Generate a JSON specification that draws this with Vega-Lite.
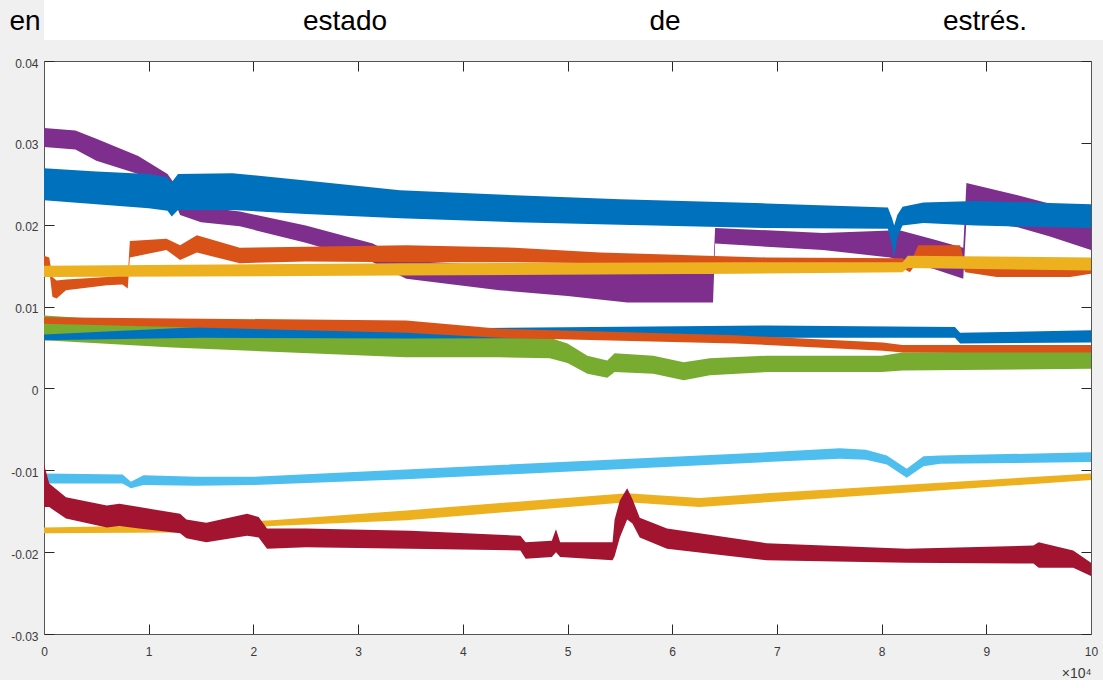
{
  "$schema": "https://vega.github.io/schema/vega-lite/v6.json",
  "background": "#f0f0f0",
  "padding": {"left": 9, "top": 0, "right": 0, "bottom": 0},
  "bounds": "flush",
  "spacing": 21,
  "config": {
    "view": {"stroke": null},
    "axis": {
      "grid": false,
      "domainColor": "#555555",
      "domainWidth": 1,
      "tickColor": "#262626",
      "tickWidth": 1,
      "tickSize": -10,
      "labelColor": "#3a3a3a",
      "labelFont": "Liberation Sans",
      "labelFontSize": 12,
      "titleFont": "Liberation Sans"
    }
  },
  "vconcat": [
    {
      "width": 1059,
      "height": 40,
      "view": {"fill": "white", "stroke": null},
      "data": {"values": [
        {"w": "en"}, {"w": "estado"}, {"w": "de"}, {"w": "estrés."}
      ]},
      "mark": {"type": "text", "font": "Liberation Sans", "fontSize": 28, "baseline": "middle", "color": "#000000", "dy": 2},
      "encoding": {
        "x": {"field": "w", "type": "nominal", "scale": {"type": "point", "domain": ["en", "estado", "de", "estrés."], "range": [-19, 941], "padding": 0}, "axis": null},
        "text": {"field": "w"}
      }
    },
    {
      "width": 1047,
      "height": 573,
      "view": {"fill": "white", "stroke": null},
      "data": {"values": [
        {"s":"a","x":0,"lo":0.0295,"hi":0.0318},
        {"s":"a","x":3000,"lo":0.0292,"hi":0.0315},
        {"s":"a","x":5000,"lo":0.0278,"hi":0.0305},
        {"s":"a","x":9000,"lo":0.0262,"hi":0.0284},
        {"s":"a","x":11800,"lo":0.0250,"hi":0.0262},
        {"s":"a","x":13000,"lo":0.0212,"hi":0.0240},
        {"s":"a","x":15000,"lo":0.0203,"hi":0.0222},
        {"s":"a","x":18700,"lo":0.0198,"hi":0.0216},
        {"s":"a","x":25000,"lo":0.0178,"hi":0.0199},
        {"s":"a","x":31400,"lo":0.0154,"hi":0.0177},
        {"s":"a","x":34600,"lo":0.0134,"hi":0.0156},
        {"s":"a","x":43500,"lo":0.0120,"hi":0.0150},
        {"s":"a","x":50000,"lo":0.0113,"hi":0.0145},
        {"s":"a","x":55700,"lo":0.0105,"hi":0.0142},
        {"s":"a","x":63900,"lo":0.0105,"hi":0.0140},
        {"s":"a","x":64100,"lo":0.0177,"hi":0.0196},
        {"s":"a","x":74400,"lo":0.0169,"hi":0.0190},
        {"s":"a","x":80800,"lo":0.0160,"hi":0.0193},
        {"s":"a","x":81800,"lo":0.0156,"hi":0.0193},
        {"s":"a","x":85000,"lo":0.0146,"hi":0.0182},
        {"s":"a","x":87800,"lo":0.0134,"hi":0.0172},
        {"s":"a","x":88100,"lo":0.0205,"hi":0.0251},
        {"s":"a","x":93000,"lo":0.0197,"hi":0.0236},
        {"s":"a","x":96000,"lo":0.0186,"hi":0.0226},
        {"s":"a","x":100000,"lo":0.0169,"hi":0.0214},

        {"s":"b","x":0,"lo":0.0059,"hi":0.0089},
        {"s":"b","x":12300,"lo":0.0050,"hi":0.0079},
        {"s":"b","x":34600,"lo":0.0038,"hi":0.0071},
        {"s":"b","x":43500,"lo":0.0038,"hi":0.0062},
        {"s":"b","x":48300,"lo":0.0037,"hi":0.0062},
        {"s":"b","x":50000,"lo":0.0031,"hi":0.0055},
        {"s":"b","x":51900,"lo":0.0018,"hi":0.0040},
        {"s":"b","x":53800,"lo":0.0013,"hi":0.0034},
        {"s":"b","x":54500,"lo":0.0020,"hi":0.0043},
        {"s":"b","x":58200,"lo":0.0018,"hi":0.0040},
        {"s":"b","x":61100,"lo":0.0010,"hi":0.0032},
        {"s":"b","x":63600,"lo":0.0016,"hi":0.0037},
        {"s":"b","x":69100,"lo":0.0020,"hi":0.0040},
        {"s":"b","x":80000,"lo":0.0020,"hi":0.0040},
        {"s":"b","x":82000,"lo":0.0022,"hi":0.0044},
        {"s":"b","x":100000,"lo":0.0024,"hi":0.0046},

        {"s":"c","x":0,"lo":0.0059,"hi":0.0066},
        {"s":"c","x":15000,"lo":0.0062,"hi":0.0075},
        {"s":"c","x":34600,"lo":0.0061,"hi":0.0073},
        {"s":"c","x":69000,"lo":0.0062,"hi":0.0077},
        {"s":"c","x":87000,"lo":0.0062,"hi":0.0075},
        {"s":"c","x":87500,"lo":0.0055,"hi":0.0068},
        {"s":"c","x":100000,"lo":0.0056,"hi":0.0071},

        {"s":"d","x":0,"lo":0.0079,"hi":0.0087},
        {"s":"d","x":34600,"lo":0.0068,"hi":0.0083},
        {"s":"d","x":43500,"lo":0.0062,"hi":0.0073},
        {"s":"d","x":66000,"lo":0.0055,"hi":0.0065},
        {"s":"d","x":80100,"lo":0.0046,"hi":0.0056},
        {"s":"d","x":82000,"lo":0.0044,"hi":0.0053},
        {"s":"d","x":100000,"lo":0.0044,"hi":0.0053},

        {"s":"e","x":0,"lo":-0.0116,"hi":-0.0104},
        {"s":"e","x":7500,"lo":-0.0116,"hi":-0.0105},
        {"s":"e","x":8300,"lo":-0.0122,"hi":-0.0114},
        {"s":"e","x":9500,"lo":-0.0118,"hi":-0.0106},
        {"s":"e","x":14600,"lo":-0.0119,"hi":-0.0108},
        {"s":"e","x":20000,"lo":-0.0118,"hi":-0.0108},
        {"s":"e","x":34600,"lo":-0.0111,"hi":-0.0099},
        {"s":"e","x":69000,"lo":-0.0090,"hi":-0.0078},
        {"s":"e","x":76000,"lo":-0.0086,"hi":-0.0073},
        {"s":"e","x":78500,"lo":-0.0087,"hi":-0.0075},
        {"s":"e","x":80500,"lo":-0.0093,"hi":-0.0082},
        {"s":"e","x":82400,"lo":-0.0109,"hi":-0.0098},
        {"s":"e","x":84000,"lo":-0.0095,"hi":-0.0083},
        {"s":"e","x":85600,"lo":-0.0092,"hi":-0.0082},
        {"s":"e","x":100000,"lo":-0.0090,"hi":-0.0078},

        {"s":"f","x":0,"lo":-0.0177,"hi":-0.0170},
        {"s":"f","x":12300,"lo":-0.0176,"hi":-0.0167},
        {"s":"f","x":21800,"lo":-0.0168,"hi":-0.0161},
        {"s":"f","x":34600,"lo":-0.0161,"hi":-0.0149},
        {"s":"f","x":55700,"lo":-0.0139,"hi":-0.0128},
        {"s":"f","x":62600,"lo":-0.0145,"hi":-0.0134},
        {"s":"f","x":69000,"lo":-0.0139,"hi":-0.0128},
        {"s":"f","x":100000,"lo":-0.0112,"hi":-0.0104},

        {"s":"g","x":0,"lo":-0.0145,"hi":-0.0093},
        {"s":"g","x":500,"lo":-0.0145,"hi":-0.0116},
        {"s":"g","x":2100,"lo":-0.0159,"hi":-0.0133},
        {"s":"g","x":6000,"lo":-0.0170,"hi":-0.0143},
        {"s":"g","x":7200,"lo":-0.0168,"hi":-0.0141},
        {"s":"g","x":9100,"lo":-0.0171,"hi":-0.0145},
        {"s":"g","x":13000,"lo":-0.0177,"hi":-0.0153},
        {"s":"g","x":13600,"lo":-0.0183,"hi":-0.0160},
        {"s":"g","x":15500,"lo":-0.0188,"hi":-0.0164},
        {"s":"g","x":19400,"lo":-0.0180,"hi":-0.0153},
        {"s":"g","x":20500,"lo":-0.0182,"hi":-0.0157},
        {"s":"g","x":21300,"lo":-0.0196,"hi":-0.0171},
        {"s":"g","x":25000,"lo":-0.0194,"hi":-0.0171},
        {"s":"g","x":35000,"lo":-0.0196,"hi":-0.0174},
        {"s":"g","x":45500,"lo":-0.0198,"hi":-0.0180},
        {"s":"g","x":46000,"lo":-0.0208,"hi":-0.0188},
        {"s":"g","x":48500,"lo":-0.0206,"hi":-0.0186},
        {"s":"g","x":48900,"lo":-0.0200,"hi":-0.0172},
        {"s":"g","x":49300,"lo":-0.0206,"hi":-0.0188},
        {"s":"g","x":54300,"lo":-0.0210,"hi":-0.0188},
        {"s":"g","x":54500,"lo":-0.0205,"hi":-0.0160},
        {"s":"g","x":55000,"lo":-0.0182,"hi":-0.0137},
        {"s":"g","x":55700,"lo":-0.0160,"hi":-0.0122},
        {"s":"g","x":56200,"lo":-0.0165,"hi":-0.0135},
        {"s":"g","x":56900,"lo":-0.0182,"hi":-0.0158},
        {"s":"g","x":59500,"lo":-0.0196,"hi":-0.0171},
        {"s":"g","x":69000,"lo":-0.0210,"hi":-0.0189},
        {"s":"g","x":82400,"lo":-0.0213,"hi":-0.0196},
        {"s":"g","x":94500,"lo":-0.0214,"hi":-0.0192},
        {"s":"g","x":95000,"lo":-0.0219,"hi":-0.0188},
        {"s":"g","x":98300,"lo":-0.0219,"hi":-0.0198},
        {"s":"g","x":100000,"lo":-0.0229,"hi":-0.0213},

        {"s":"h","x":0,"lo":0.0230,"hi":0.0269},
        {"s":"h","x":5000,"lo":0.0225,"hi":0.0265},
        {"s":"h","x":10000,"lo":0.0220,"hi":0.0262},
        {"s":"h","x":11800,"lo":0.0217,"hi":0.0258},
        {"s":"h","x":12200,"lo":0.0210,"hi":0.0252},
        {"s":"h","x":12800,"lo":0.0218,"hi":0.0262},
        {"s":"h","x":18000,"lo":0.0218,"hi":0.0263},
        {"s":"h","x":25000,"lo":0.0213,"hi":0.0254},
        {"s":"h","x":34000,"lo":0.0208,"hi":0.0242},
        {"s":"h","x":45000,"lo":0.0203,"hi":0.0236},
        {"s":"h","x":55000,"lo":0.0200,"hi":0.0231},
        {"s":"h","x":69000,"lo":0.0196,"hi":0.0226},
        {"s":"h","x":80600,"lo":0.0195,"hi":0.0221},
        {"s":"h","x":81000,"lo":0.0175,"hi":0.0208},
        {"s":"h","x":81200,"lo":0.0160,"hi":0.0199},
        {"s":"h","x":81500,"lo":0.0185,"hi":0.0212},
        {"s":"h","x":82000,"lo":0.0199,"hi":0.0222},
        {"s":"h","x":84000,"lo":0.0202,"hi":0.0227},
        {"s":"h","x":89000,"lo":0.0199,"hi":0.0229},
        {"s":"h","x":100000,"lo":0.0196,"hi":0.0225},

        {"s":"i","x":0,"lo":0.0148,"hi":0.0162},
        {"s":"i","x":500,"lo":0.0145,"hi":0.0160},
        {"s":"i","x":800,"lo":0.0112,"hi":0.0136},
        {"s":"i","x":1200,"lo":0.0110,"hi":0.0132},
        {"s":"i","x":2100,"lo":0.0120,"hi":0.0133},
        {"s":"i","x":6000,"lo":0.0126,"hi":0.0136},
        {"s":"i","x":7500,"lo":0.0127,"hi":0.0138},
        {"s":"i","x":8000,"lo":0.0122,"hi":0.0137},
        {"s":"i","x":8200,"lo":0.0160,"hi":0.0180},
        {"s":"i","x":11700,"lo":0.0169,"hi":0.0183},
        {"s":"i","x":13000,"lo":0.0157,"hi":0.0175},
        {"s":"i","x":14600,"lo":0.0166,"hi":0.0187},
        {"s":"i","x":18700,"lo":0.0153,"hi":0.0172},
        {"s":"i","x":25000,"lo":0.0155,"hi":0.0173},
        {"s":"i","x":34600,"lo":0.0154,"hi":0.0175},
        {"s":"i","x":45000,"lo":0.0154,"hi":0.0172},
        {"s":"i","x":53100,"lo":0.0153,"hi":0.0166},
        {"s":"i","x":69000,"lo":0.0148,"hi":0.0160},
        {"s":"i","x":82000,"lo":0.0147,"hi":0.0159},
        {"s":"i","x":82700,"lo":0.0142,"hi":0.0152},
        {"s":"i","x":83500,"lo":0.0156,"hi":0.0175},
        {"s":"i","x":87500,"lo":0.0156,"hi":0.0175},
        {"s":"i","x":88000,"lo":0.0142,"hi":0.0150},
        {"s":"i","x":91000,"lo":0.0136,"hi":0.0147},
        {"s":"i","x":98000,"lo":0.0136,"hi":0.0147},
        {"s":"i","x":100000,"lo":0.0140,"hi":0.0150},

        {"s":"j","x":0,"lo":0.0136,"hi":0.0150},
        {"s":"j","x":34000,"lo":0.0138,"hi":0.0153},
        {"s":"j","x":66000,"lo":0.0140,"hi":0.0154},
        {"s":"j","x":82000,"lo":0.0142,"hi":0.0154},
        {"s":"j","x":82500,"lo":0.0147,"hi":0.0162},
        {"s":"j","x":100000,"lo":0.0144,"hi":0.0160}
      ]},
      "resolve": {"axis": {"x": "independent", "y": "independent"}},
      "layer": [
        {
          "mark": {"type": "area", "interpolate": "linear", "opacity": 1},
          "encoding": {
            "x": {"field": "x", "type": "quantitative",
              "scale": {"domain": [0, 100000], "nice": false, "zero": false},
              "axis": {"orient": "bottom", "values": [0,10000,20000,30000,40000,50000,60000,70000,80000,90000,100000],
                "labelExpr": "'' + (datum.value / 10000)", "labelFlush": false, "labelPadding": 22,
                "title": "×10⁴", "titleAnchor": "end", "titleAlign": "right", "titleFontSize": 14,
                "titleFontWeight": "normal", "titleColor": "#3a3a3a", "titlePadding": 9}},
            "y": {"field": "hi", "type": "quantitative", "stack": null,
              "scale": {"domain": [-0.03, 0.04], "nice": false, "zero": false},
              "axis": {"orient": "left", "values": [-0.03,-0.02,-0.01,0,0.01,0.02,0.03,0.04],
                "labelExpr": "'' + datum.value", "labelPadding": 16, "labelOffset": 2, "title": null}},
            "y2": {"field": "lo"},
            "color": {"field": "s", "type": "nominal",
              "scale": {"domain": ["a","b","c","d","e","f","g","h","i","j"],
                "range": ["#7E2F8E","#77AC30","#0072BD","#D95319","#4DBEEE","#EDB120","#A2142F","#0072BD","#D95319","#EDB120"]},
              "legend": null}
          }
        },
        {
          "mark": {"type": "area", "opacity": 0},
          "encoding": {
            "x": {"field": "x", "type": "quantitative",
              "axis": {"orient": "top", "values": [0,10000,20000,30000,40000,50000,60000,70000,80000,90000,100000], "labels": false, "title": null}},
            "y": {"field": "hi", "type": "quantitative", "stack": null,
              "axis": {"orient": "right", "values": [-0.03,-0.02,-0.01,0,0.01,0.02,0.03,0.04], "labels": false, "title": null}},
            "y2": {"field": "lo"},
            "detail": {"field": "s"}
          }
        }
      ]
    }
  ]
}
